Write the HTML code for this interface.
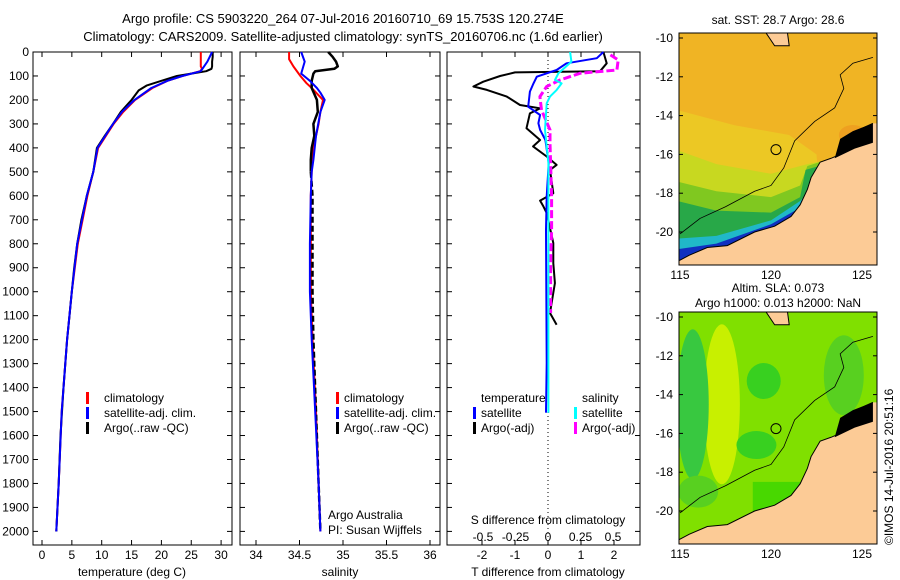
<!DOCTYPE html>
<html><head><meta charset="utf-8"><style>
body{margin:0;background:#fff;}
svg{display:block;font-family:"Liberation Sans",sans-serif;}
text{font-size:12px;fill:#000;}
</style></head><body>
<svg id="chart" width="900" height="580" viewBox="0 0 900 580">
<text x="343" y="23" text-anchor="middle" style="font-size:13px">Argo profile: CS 5903220_264 07-Jul-2016 20160710_69 15.753S 120.274E</text>
<text x="343" y="41" text-anchor="middle" style="font-size:13px">Climatology: CARS2009. Satellite-adjusted climatology: synTS_20160706.nc (1.6d earlier)</text>
<g id="plots"></g>
<g id="maps"></g>
<text transform="translate(893,545) rotate(-90)" style="font-size:12px">©IMOS 14-Jul-2016 20:51:16</text>
</svg>
<script>
// ---- data ----
const tArgoDepth=[0,20,40,60,70,80,90,100,120,140,160,200,250,300,350,400,500,600,700,800,900,1000,1100,1200,1400,1600,1800,1950,2000];
const tArgo=[28.6,28.6,28.5,28.5,28.4,27.5,25,22.6,20,17.5,16.2,15.0,13.2,11.9,10.5,9.2,8.6,7.5,6.6,5.9,5.4,5.0,4.6,4.2,3.6,3.1,2.8,2.5,2.4];
const tClimDepth=[0,60,70,80,100,120,150,200,250,300,400,500,600,700,800,1000,1200,1500,1800,2000];
const tClim=[26.6,26.6,26.8,26.5,23.5,21,18.5,15.6,13.6,12.0,9.4,8.6,7.6,6.8,6.0,5.0,4.2,3.3,2.8,2.4];
const tSatDepth=[0,40,80,100,120,150,200,250,300,400,500,600,700,800,1000,1200,1500,1800,2000];
const tSat=[28.5,27.7,26.6,23.5,21,18.3,15.5,13.4,11.9,9.3,8.6,7.5,6.7,5.9,5.0,4.2,3.3,2.8,2.4];

const sArgoDepth=[0,20,40,60,70,80,90,120,150,200,250,300,350,400,450,500,600,800,1000,1200,1500,1800,2000];
const sArgo=[34.83,34.88,34.92,34.94,34.9,34.68,34.66,34.64,34.64,34.70,34.71,34.66,34.67,34.64,34.63,34.63,34.65,34.65,34.65,34.66,34.69,34.72,34.74];
const sClimDepth=[0,30,60,100,130,150,200,250,300,400,500,600,800,1000,1200,1500,1800,2000];
const sClim=[34.38,34.38,34.43,34.51,34.58,34.64,34.77,34.74,34.72,34.66,34.64,34.63,34.63,34.63,34.65,34.69,34.72,34.74];
const sSatDepth=[0,40,90,120,150,170,200,250,350,450,500,600,800,1000,1200,1500,1800,2000];
const sSat=[34.52,34.56,34.52,34.62,34.70,34.74,34.79,34.74,34.69,34.66,34.64,34.63,34.62,34.62,34.64,34.68,34.72,34.74];

const dTArgoDepth=[0,47,80,85,100,124,144,158,186,221,235,256,318,367,394,436,471,492,589,620,644,672,797,881,964,1089,1138];
const dTArgo=[1.68,1.78,1.58,-1.0,-1.45,-1.96,-2.26,-1.85,-1.25,-0.85,-0.24,-0.55,-0.65,-0.24,-0.45,-0.04,0.26,0.06,0.16,-0.24,-0.14,-0.04,0.16,0.16,0.21,0.06,0.26];
const dTSatDepth=[0,26,47,75,103,131,165,228,263,297,325,367,464,603,742,1297,1505];
const dTSat=[1.68,1.48,0.56,0.26,-0.34,-0.44,-0.55,-0.6,-0.24,-0.29,-0.24,-0.08,0.02,-0.04,-0.06,-0.04,-0.06];
const dSSatDepth=[0,40,60,89,117,131,158,186,214,325,394,464,1505];
const dSSat=[0.17,0.18,0.14,0.08,0.054,0.105,0.067,0.015,-0.01,-0.023,-0.01,0.003,0.003];
const dSArgoDepth=[12,33,75,89,117,144,186,242,325,381,464,603,742,881,1089];
const dSArgo=[0.48,0.54,0.53,0.246,0.092,-0.01,-0.062,-0.05,0.015,0.015,0.02,0.028,0.028,0.02,0.02];

const depthTicks=[0,100,200,300,400,500,600,700,800,900,1000,1100,1200,1300,1400,1500,1600,1700,1800,1900,2000];
const tempTicks=[0,5,10,15,20,25,30];
const salTicks=[34,34.5,35,35.5,36];
const salTickLabels=["34","34.5","35","35.5","36"];
const dTTicks=[-2,-1,0,1,2];
const dSTicks=[-0.5,-0.25,0,0.25,0.5];
const dSTickLabels=["-0.5","-0.25","0","0.25","0.5"];

// ---- scales ----
const NS="http://www.w3.org/2000/svg";
const TOP=52, BOT=545;
const yD=d=>TOP+d*0.2397;
const xT=t=>42+t*5.97;
const xS=s=>256+(s-34)*87;
const xDT=t=>548+t*33;
const xDS=s=>548+s*130;
const plots=document.getElementById('plots');
function el(tag,attrs,parent){const e=document.createElementNS(NS,tag);for(const k in attrs)e.setAttribute(k,attrs[k]);(parent||plots).appendChild(e);return e;}
function line(xs,ys,xf,color,w,name,dash){
  const pts=xs.map((v,i)=>xf(v).toFixed(1)+','+yD(ys[i]).toFixed(1)).join(' ');
  const p=el('polyline',{points:pts,fill:'none',stroke:color,'stroke-width':w,'stroke-linejoin':'round'});
  if(dash)p.setAttribute('stroke-dasharray',dash);
  
  
}
function panel(x0,x1,name){
  const r=el('rect',{x:x0,y:TOP,width:x1-x0,height:BOT-TOP,fill:'none',stroke:'#000','stroke-width':1});
  
  
  depthTicks.forEach(d=>{
    el('line',{x1:x0,x2:x0+5,y1:yD(d),y2:yD(d),stroke:'#000'});
    el('line',{x1:x1-5,x2:x1,y1:yD(d),y2:yD(d),stroke:'#000'});
  });
}
function xticks(vals,labels,xf,x0,x1,ly){
  vals.forEach((v,i)=>{
    el('line',{x1:xf(v),x2:xf(v),y1:TOP,y2:TOP+5,stroke:'#000'});
    el('line',{x1:xf(v),x2:xf(v),y1:BOT-5,y2:BOT,stroke:'#000'});
    const t=el('text',{x:xf(v),y:ly,'text-anchor':'middle'});t.textContent=labels[i];
    
    
  });
}
function txt(x,y,s,name,anchor){const t=el('text',{x:x,y:y,'text-anchor':anchor||'start'});t.textContent=s;
  
  return t;}
function legBar(x,y,color,name){const r=el('rect',{x:x,y:y-10,width:3,height:12,fill:color});
  
  }

depthTicks.forEach(d=>{const t=el('text',{x:29,y:yD(d)+4,'text-anchor':'end'});t.textContent=d;
  
  });

// panel 1
panel(33,232,'temperature-panel');
xticks(tempTicks,tempTicks.map(String),xT,33,232,559);
txt(132,576,'temperature (deg C)','x-axis-title-temperature','middle');
line(tClim,tClimDepth,xT,'#f00',2,'temp-climatology-line');
line(tArgo,tArgoDepth,xT,'#000',2,'temp-argo-line');
line(tSat,tSatDepth,xT,'#00f',2,'temp-satellite-line');
legBar(86,402,'#f00','legend-climatology-swatch');txt(104,402,'climatology','legend-climatology');
legBar(86,417,'#00f','legend-satellite-swatch');txt(104,417,'satellite-adj. clim.','legend-satellite');
legBar(86,432,'#000','legend-argo-swatch');txt(104,432,'Argo(..raw -QC)','legend-argo');

// panel 2
panel(240,440,'salinity-panel');
xticks(salTicks,salTickLabels,xS,240,440,559);
txt(340,576,'salinity','x-axis-title-salinity','middle');
line(sClim,sClimDepth,xS,'#f00',2,'sal-climatology-line');
const upIdx=sArgoDepth.map((d,i)=>i).filter(i=>sArgoDepth[i]<=500);
const loIdx=sArgoDepth.map((d,i)=>i).filter(i=>sArgoDepth[i]>=500);
line(upIdx.map(i=>sArgo[i]),upIdx.map(i=>sArgoDepth[i]),xS,'#000',2.5,'sal-argo-line-upper');
line(loIdx.map(i=>sArgo[i]),loIdx.map(i=>sArgoDepth[i]),xS,'#000',2.5,'sal-argo-line-lower','6,3');
line(sSat,sSatDepth,xS,'#00f',2,'sal-satellite-line');
legBar(336,402,'#f00','legend2-climatology-swatch');txt(344,402,'climatology','legend2-climatology');
legBar(336,417,'#00f','legend2-satellite-swatch');txt(344,417,'satellite-adj. clim.','legend2-satellite');
legBar(336,432,'#000','legend2-argo-swatch');txt(344,432,'Argo(..raw -QC)','legend2-argo');
txt(328,519,'Argo Australia','credit-argo-australia');
txt(328,534,'PI: Susan Wijffels','credit-pi');

// panel 3
panel(447,640,'difference-panel');
el('line',{x1:548,x2:548,y1:TOP,y2:BOT,stroke:'#000','stroke-dasharray':'1,3'});
xticks(dTTicks,dTTicks.map(String),xDT,447,640,559);
dSTicks.forEach((v,i)=>{const t=el('text',{x:xDS(v),y:541,'text-anchor':'middle'});t.textContent=dSTickLabels[i];
  
  });
txt(548,524,'S difference from climatology','s-diff-axis-title','middle');
txt(548,576,'T difference from climatology','t-diff-axis-title','middle');
line(dTArgo,dTArgoDepth,xDT,'#000',2,'t-diff-argo-line');
line(dTSat,dTSatDepth,xDT,'#00f',2,'t-diff-satellite-line');
line(dSArgo,dSArgoDepth,xDS,'#f0f',3,'s-diff-argo-line','8,3');
line(dSSat,dSSatDepth,xDS,'#0ff',2,'s-diff-satellite-line');
txt(481,402,'temperature','legend3-temperature-header');
legBar(473,417,'#00f','legend3-t-satellite-swatch');txt(481,417,'satellite','legend3-t-satellite');
legBar(473,432,'#000','legend3-t-argo-swatch');txt(481,432,'Argo(-adj)','legend3-t-argo');
txt(582,402,'salinity','legend3-salinity-header');
legBar(574,417,'#0ff','legend3-s-satellite-swatch');txt(582,417,'satellite','legend3-s-satellite');
legBar(574,432,'#f0f','legend3-s-argo-swatch');txt(582,432,'Argo(-adj)','legend3-s-argo');

// ---- maps ----
const maps=document.getElementById('maps');
const coastLon=[114.7,115.5,116.5,117.6,119.1,120.2,121.1,121.6,122.0,122.2,122.7,123.3,123.8,124.4,124.9,125.6];
const coastLat=[-21.6,-21.2,-20.8,-20.7,-20.0,-19.7,-19.2,-18.6,-17.8,-17.2,-16.4,-16.2,-16.0,-15.6,-14.7,-14.4];
const contourLon=[115,116.1,117.5,119.1,120.0,120.7,121.3,122.4,123.5,124.0,123.8,124.5,125.6];
const contourLat=[-20.1,-19.3,-18.7,-17.9,-17.6,-16.7,-15.3,-14.3,-13.6,-12.6,-11.9,-11.3,-11.0];
function drawMap(y0,title1,title2,kind){
  const X=lon=>680+(lon-115)*18.2, Y=lat=>y0+5+(-10-lat)*19.4;
  const W=198,H=232;
  const g=el('g',{},maps);
  
  
  const cid='clip'+kind;
  const cp=el('clipPath',{id:cid},g);el('rect',{x:679,y:y0,width:W,height:H},cp);
  const gg=el('g',{'clip-path':'url(#'+cid+')'},g);
  if(kind==='sst'){
    el('rect',{x:679,y:y0,width:W,height:H,fill:'#f0b424'},gg);
    el('polygon',{points:`${X(114)},${Y(-13.5)} ${X(118)},${Y(-14.5)} ${X(121)},${Y(-15)} ${X(122.5)},${Y(-16)} ${X(123)},${Y(-22)} ${X(114)},${Y(-22)}`,fill:'#ecc824'},gg);
    el('polygon',{points:`${X(114)},${Y(-15.5)} ${X(117)},${Y(-16.5)} ${X(120)},${Y(-17)} ${X(122)},${Y(-16.5)} ${X(123)},${Y(-16.3)} ${X(123)},${Y(-22)} ${X(114)},${Y(-22)}`,fill:'#c8d820'},gg);
    el('polygon',{points:`${X(114)},${Y(-17.2)} ${X(117)},${Y(-17.9)} ${X(120)},${Y(-18.2)} ${X(121.6)},${Y(-17.6)} ${X(122)},${Y(-16.6)} ${X(123)},${Y(-16.3)} ${X(123)},${Y(-22)} ${X(114)},${Y(-22)}`,fill:'#80c820'},gg);
    el('polygon',{points:`${X(114)},${Y(-18.2)} ${X(117)},${Y(-18.9)} ${X(120)},${Y(-19.0)} ${X(121.6)},${Y(-18.2)} ${X(121.9)},${Y(-16.8)} ${X(123)},${Y(-16.5)} ${X(123)},${Y(-22)} ${X(114)},${Y(-22)}`,fill:'#28a848'},gg);
    el('polygon',{points:`${X(114)},${Y(-20.4)} ${X(117)},${Y(-20.2)} ${X(120)},${Y(-19.4)} ${X(121.6)},${Y(-18.4)} ${X(123)},${Y(-17)} ${X(123)},${Y(-22)} ${X(114)},${Y(-22)}`,fill:'#20b8c8'},gg);
    el('polygon',{points:`${X(114)},${Y(-21)} ${X(117)},${Y(-20.6)} ${X(120)},${Y(-19.6)} ${X(121.5)},${Y(-18.8)} ${X(123)},${Y(-17)} ${X(123)},${Y(-22)} ${X(114)},${Y(-22)}`,fill:'#1030c0'},gg);
    el('ellipse',{cx:X(124.5),cy:Y(-15),rx:14,ry:10,fill:'#eea020'},gg);
  } else {
    el('rect',{x:679,y:y0,width:W,height:H,fill:'#80e000'},gg);
    el('ellipse',{cx:X(117.3),cy:Y(-14.5),rx:18,ry:80,fill:'#c8f000'},gg);
    el('ellipse',{cx:X(115.7),cy:Y(-14.5),rx:16,ry:75,fill:'#38c840'},gg);
    el('ellipse',{cx:X(119.6),cy:Y(-13.3),rx:17,ry:18,fill:'#38d020'},gg);
    el('ellipse',{cx:X(119.2),cy:Y(-16.6),rx:20,ry:14,fill:'#38d020'},gg);
    el('ellipse',{cx:X(116),cy:Y(-19),rx:20,ry:16,fill:'#58d020'},gg);
    el('ellipse',{cx:X(124),cy:Y(-13),rx:20,ry:40,fill:'#58d020'},gg);
    el('rect',{x:X(119),y:Y(-18.5),width:60,height:40,fill:'#48d800'},gg);
  }
  const cpts=coastLon.map((v,i)=>X(v)+','+Y(coastLat[i])).join(' ');
  el('polygon',{points:cpts+` ${X(126)},${Y(-14.4)} ${X(126)},${Y(-22)} ${X(114)},${Y(-22)}`,fill:'#fccb96'},gg);
  el('polyline',{points:cpts,fill:'none',stroke:'#000','stroke-width':1},gg);
  el('polygon',{points:`${X(119.7)},${Y(-9.7)} ${X(120.2)},${Y(-10.4)} ${X(121)},${Y(-10.4)} ${X(120.9)},${Y(-9.7)}`,fill:'#fccb96',stroke:'#000'},gg);
  el('polygon',{points:`${X(123.8)},${Y(-15.2)} ${X(124.5)},${Y(-14.8)} ${X(125.6)},${Y(-14.4)} ${X(125.6)},${Y(-15.4)} ${X(124.6)},${Y(-15.7)} ${X(123.5)},${Y(-16.2)}`,fill:'#000'},gg);
  const cc=contourLon.map((v,i)=>X(v)+','+Y(contourLat[i])).join(' ');
  el('polyline',{points:cc,fill:'none',stroke:'#000','stroke-width':0.8},gg);
  const m=el('circle',{cx:X(120.274),cy:Y(-15.753),r:5,fill:'none',stroke:'#000'},g);
  
  
  el('rect',{x:679,y:y0,width:W,height:H,fill:'none',stroke:'#000'},g);
  [-10,-12,-14,-16,-18,-20].forEach(l=>{
    const t=el('text',{x:673,y:Y(l)+4,'text-anchor':'end'},g);t.textContent=l;
    
    
    el('line',{x1:679,x2:683,y1:Y(l),y2:Y(l),stroke:'#000'},g);
    el('line',{x1:873,x2:877,y1:Y(l),y2:Y(l),stroke:'#000'},g);
  });
  [115,120,125].forEach(l=>{
    const t=el('text',{x:X(l),y:y0+H+14,'text-anchor':'middle'},g);t.textContent=l;
    
    
  });
  const t1=el('text',{x:778,y:title2?y0-20:y0-9,'text-anchor':'middle'},g);t1.textContent=title1;
  
  
  if(title2){const t2=el('text',{x:778,y:y0-5,'text-anchor':'middle'},g);t2.textContent=title2;
    
    }
}
drawMap(33,'sat. SST: 28.7 Argo: 28.6',null,'sst');
drawMap(312,'Altim. SLA: 0.073','Argo h1000: 0.013 h2000: NaN','sla');
</script>
</body></html>
